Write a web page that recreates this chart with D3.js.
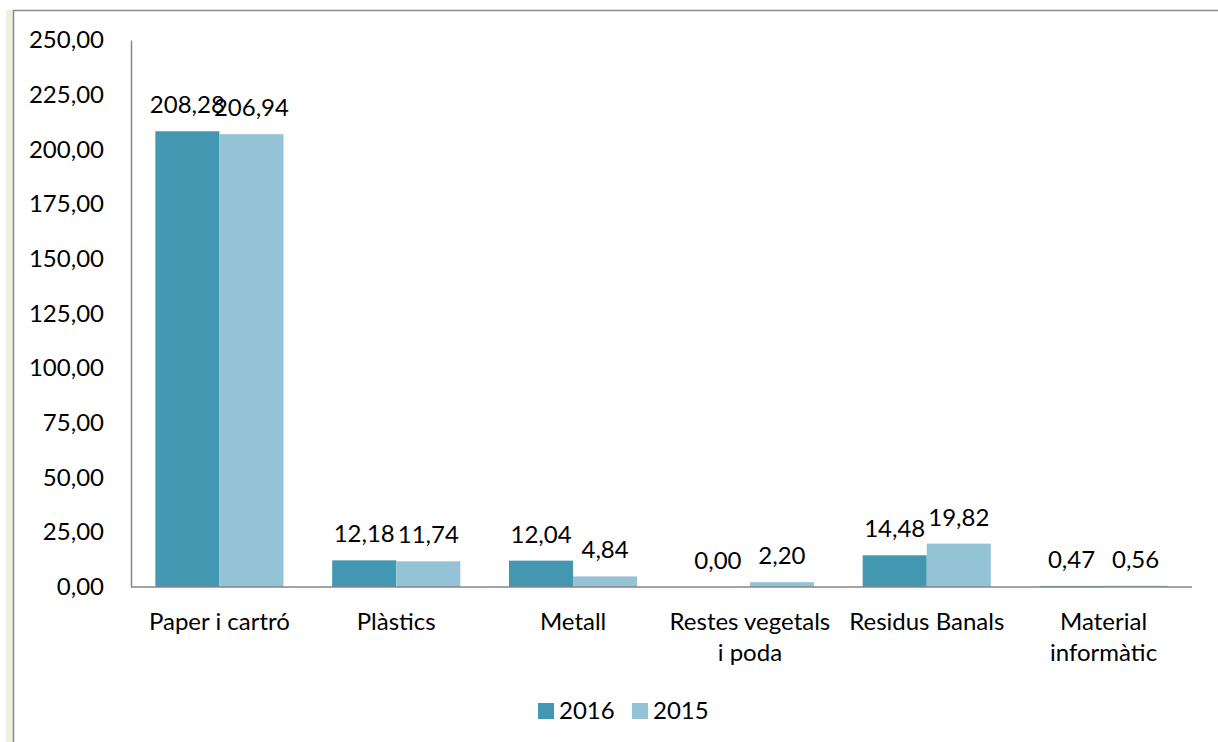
<!DOCTYPE html>
<html>
<head>
<meta charset="utf-8">
<script src="https://cdn.jsdelivr.net/npm/d3@7"></script>
<style>
  html, body { margin: 0; padding: 0; background: #fff; }
  svg { display: block; }
  text { font-family: Lato, "Open Sans", sans-serif; fill: #000; }
</style>
</head>
<body>
<svg id="chart" width="1218" height="742"></svg>
<script>
// categories (line breaks as in the original axis)
const categories = [
  "Paper i cartró",
  "Plàstics",
  "Metall",
  "Restes vegetals\ni poda",
  "Residus Banals",
  "Material\ninformàtic"
];
const series = ["2016", "2015"];
const values2016 = [208.28, 12.18, 12.04, 0.00, 14.48, 0.47];
const values2015 = [206.94, 11.74, 4.84, 2.20, 19.82, 0.56];
const yTicks = [0, 25, 50, 75, 100, 125, 150, 175, 200, 225, 250];

const colors = { "2016": "#4397b0", "2015": "#93c3d5" };
const fontSize = 24;

const svg = d3.select("#chart");
const margin = { left: 131, right: 1192, top: 40, bottom: 587 };

const locale = d3.formatLocale({ decimal: ",", thousands: ".", grouping: [3], currency: ["", "€"] });
const fmt = locale.format(".2f");

const rows = categories.map((c, i) => ({
  category: c,
  values: [
    { key: "2016", value: values2016[i] },
    { key: "2015", value: values2015[i] }
  ]
}));

const x0 = d3.scaleBand()
  .domain(categories)
  .range([margin.left, margin.right])
  .padding(0);

const x1 = d3.scaleBand()
  .domain(series)
  .range([0, x0.bandwidth()])
  .paddingInner(0)
  .paddingOuter(0.38);

const y = d3.scaleLinear()
  .domain([0, 250])
  .range([margin.bottom, margin.top]);

// frame
svg.append("rect")
  .attr("x", 6).attr("y", 10)
  .attr("width", 7).attr("height", 742)
  .attr("fill", "#ebf1de");
svg.append("line")
  .attr("x1", 13.5).attr("x2", 13.5)
  .attr("y1", 10).attr("y2", 742)
  .attr("stroke", "#8a8a8a").attr("stroke-width", 1.5);
svg.append("line")
  .attr("x1", 13).attr("x2", 1218)
  .attr("y1", 10.5).attr("y2", 10.5)
  .attr("stroke", "#8a8a8a").attr("stroke-width", 1.5);

// y axis
const yAxis = svg.append("g")
  .attr("transform", `translate(${margin.left},0)`)
  .call(d3.axisLeft(y).tickValues(yTicks).tickSize(0).tickPadding(27).tickFormat(fmt));
yAxis.select(".domain").attr("stroke", "#868686").attr("stroke-width", 1.5);
yAxis.selectAll("text")
  .attr("font-size", fontSize)
  .attr("font-family", "Lato, 'Open Sans', sans-serif")
  .attr("fill", "#000");

// bars
const groups = svg.append("g")
  .selectAll("g")
  .data(rows)
  .join("g")
  .attr("transform", d => `translate(${x0(d.category)},0)`);

groups.selectAll("rect")
  .data(d => d.values)
  .join("rect")
  .attr("x", d => x1(d.key))
  .attr("y", d => y(d.value))
  .attr("width", x1.bandwidth())
  .attr("height", d => y(0) - y(d.value))
  .attr("fill", d => colors[d.key]);

groups.selectAll("text")
  .data(d => d.values)
  .join("text")
  .attr("x", d => x1(d.key) + x1.bandwidth() / 2)
  .attr("y", d => y(d.value) - 18)
  .attr("text-anchor", "middle")
  .attr("font-size", fontSize)
  .text(d => fmt(d.value));

// x axis baseline
svg.append("line")
  .attr("x1", margin.left).attr("x2", margin.right)
  .attr("y1", y(0)).attr("y2", y(0))
  .attr("stroke", "#868686").attr("stroke-width", 1.5);

// category labels
const catLabels = svg.append("g")
  .selectAll("text")
  .data(categories)
  .join("text")
  .attr("x", d => x0(d) + x0.bandwidth() / 2)
  .attr("y", 630)
  .attr("text-anchor", "middle")
  .attr("font-size", fontSize);
catLabels.selectAll("tspan")
  .data(d => d.split("\n"))
  .join("tspan")
  .attr("x", function () { return this.parentNode.getAttribute("x"); })
  .attr("dy", (d, i) => i === 0 ? 0 : 31)
  .text(d => d);

// legend
const legend = svg.append("g").attr("transform", "translate(538,703)");
const items = legend.selectAll("g")
  .data(series)
  .join("g")
  .attr("transform", (d, i) => `translate(${i * 94},0)`);
items.append("rect")
  .attr("width", 16).attr("height", 16)
  .attr("fill", d => colors[d]);
items.append("text")
  .attr("x", 21).attr("y", 16)
  .attr("font-size", fontSize)
  .text(d => d);
</script>
</body>
</html>
